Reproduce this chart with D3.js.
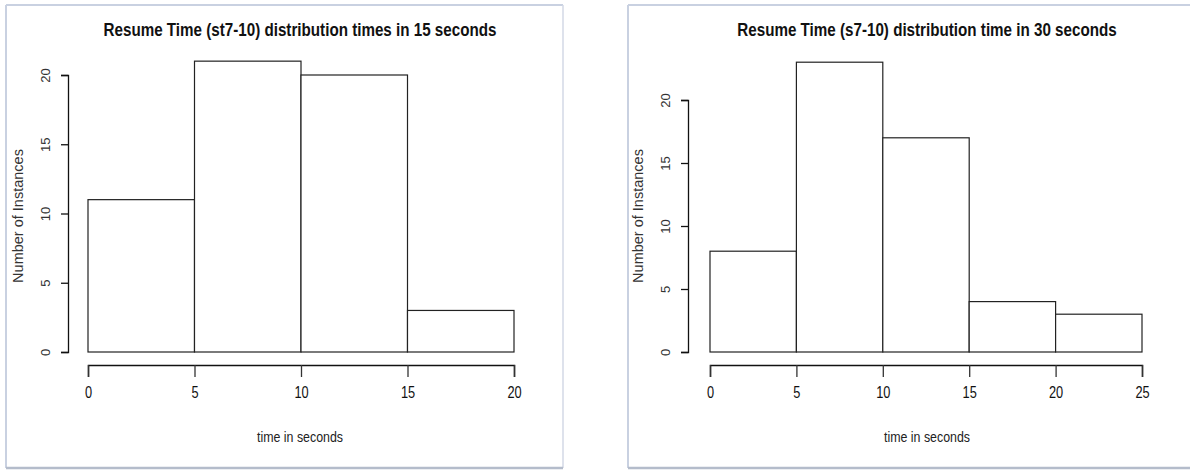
<!DOCTYPE html>
<html>
<head>
<meta charset="utf-8">
<script src="https://cdn.jsdelivr.net/npm/d3@7"></script>
<style>
  body { margin: 0; background: #fff; }
  svg text { font-family: "Liberation Sans", Arial, sans-serif; }
</style>
</head>
<body>
<div id="chart"></div>
<script>
// histogram data
const leftBreaks = [0, 5, 10, 15, 20];
const leftCounts = [11, 21, 20, 3];
const leftYTicks = [0, 5, 10, 15, 20];
const leftTitle = "Resume Time (st7-10) distribution times in 15 seconds";

const rightBreaks = [0, 5, 10, 15, 20, 25];
const rightCounts = [8, 23, 17, 4, 3];
const rightYTicks = [0, 5, 10, 15, 20];
const rightTitle = "Resume Time (s7-10) distribution time in 30 seconds";

const xLabel = "time in seconds";
const yLabel = "Number of Instances";

const W = 1190, H = 471;
const svg = d3.select("#chart").append("svg")
  .attr("width", W)
  .attr("height", H);

// panel frames (screenshot window edges)
function frame(x0, x1) {
  const g = svg.append("g");
  g.append("line").attr("x1", x0).attr("x2", x1).attr("y1", 5).attr("y2", 5)
    .attr("stroke", "#c9d1e1").attr("stroke-width", 2);
  g.append("line").attr("x1", x0).attr("x2", x0).attr("y1", 5).attr("y2", 468)
    .attr("stroke", "#c9d1e1").attr("stroke-width", 2);
  if (x1 < W) {
    g.append("line").attr("x1", x1).attr("x2", x1).attr("y1", 5).attr("y2", 468)
      .attr("stroke", "#d3d9e6").attr("stroke-width", 1.5);
  }
  g.append("line").attr("x1", x0).attr("x2", x1).attr("y1", 468).attr("y2", 468)
    .attr("stroke", "#b4bccb").attr("stroke-width", 2.5);
}
frame(6, 563);
frame(628, W + 2);

function drawHist(opt) {
  const { breaks, counts, yTicks, title, xRange, yTop, axisX, titleX } = opt;
  const g = svg.append("g");

  const x = d3.scaleLinear()
    .domain([breaks[0], breaks[breaks.length - 1]])
    .range(xRange);
  const y = d3.scaleLinear()
    .domain([0, yTicks[yTicks.length - 1]])
    .range([352, yTop]);

  // bars
  g.selectAll("rect.bar")
    .data(counts)
    .enter().append("rect")
    .attr("class", "bar")
    .attr("x", (d, i) => x(breaks[i]))
    .attr("y", d => y(d))
    .attr("width", (d, i) => x(breaks[i + 1]) - x(breaks[i]))
    .attr("height", d => y(0) - y(d))
    .attr("fill", "#fff")
    .attr("stroke", "#222")
    .attr("stroke-width", 1.2);

  // x axis
  const xa = g.append("g")
    .attr("transform", "translate(0,365)")
    .call(d3.axisBottom(x).tickValues(breaks).tickSizeOuter(0).tickSize(12).tickPadding(7));
  xa.select(".domain").attr("stroke", "#111").attr("stroke-width", 1.5);
  xa.selectAll(".tick line").attr("stroke", "#333").attr("stroke-width", 1.3);
  xa.selectAll("text")
    .attr("font-size", 16)
    .attr("fill", "#111")
    .attr("transform", "scale(0.8,1)")
    .attr("dy", "0.85em");

  // y axis
  const ya = g.append("g")
    .attr("transform", `translate(${axisX},0)`)
    .call(d3.axisLeft(y).tickValues(yTicks).tickSizeOuter(0).tickSize(7));
  ya.select(".domain").attr("stroke", "#111").attr("stroke-width", 1.3);
  ya.selectAll(".tick line").attr("stroke", "#111").attr("stroke-width", 1.3);
  ya.selectAll("text")
    .attr("font-size", 13)
    .attr("fill", "#333")
    .attr("transform", "rotate(-90)")
    .attr("x", 0)
    .attr("y", -18)
    .attr("dy", 0)
    .attr("text-anchor", "middle");

  // title
  g.append("text")
    .attr("transform", `translate(${titleX},36) scale(0.8,1)`)
    .attr("text-anchor", "middle")
    .attr("font-size", 19)
    .attr("font-weight", "bold")
    .attr("fill", "#111")
    .text(title);

  // x label
  g.append("text")
    .attr("transform", `translate(${titleX},442) scale(0.8,1)`)
    .attr("text-anchor", "middle")
    .attr("font-size", 15.5)
    .attr("fill", "#222")
    .text(xLabel);

  // y label
  g.append("text")
    .attr("transform", `translate(${axisX - 45},${216}) rotate(-90)`)
    .attr("text-anchor", "middle")
    .attr("font-size", 14.5)
    .attr("fill", "#333")
    .text(yLabel);
}

drawHist({
  breaks: leftBreaks, counts: leftCounts, yTicks: leftYTicks, title: leftTitle,
  xRange: [88, 514], yTop: 75, axisX: 68, titleX: 300
});
drawHist({
  breaks: rightBreaks, counts: rightCounts, yTicks: rightYTicks, title: rightTitle,
  xRange: [710, 1142], yTop: 100, axisX: 688, titleX: 927
});
</script>
</body>
</html>
